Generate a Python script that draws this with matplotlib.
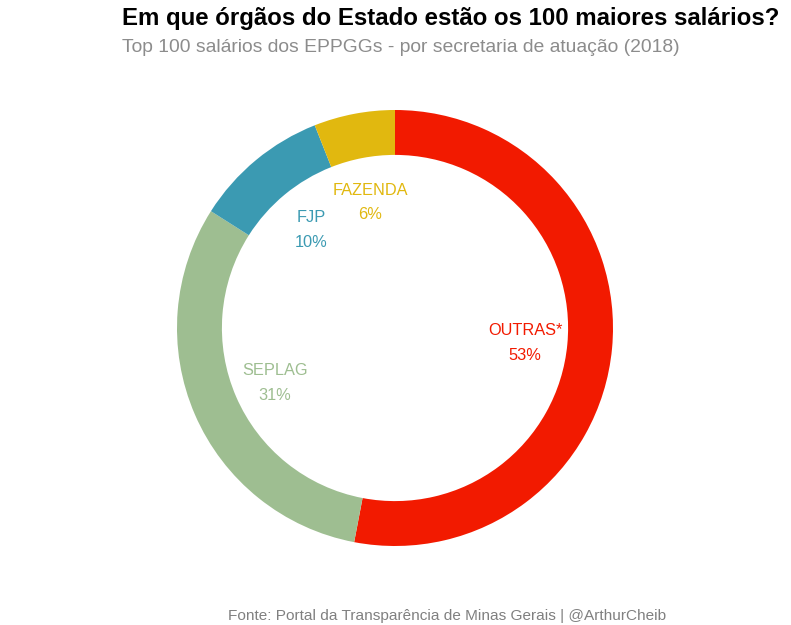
import matplotlib
matplotlib.use("Agg")
import matplotlib.pyplot as plt
import numpy as np

categories = ["OUTRAS*", "SEPLAG", "FJP", "FAZENDA"]
values = [53, 31, 10, 6]
colors = ["#F21A00", "#9EBE91", "#3B9AB2", "#E1B80F"]

plt.rcParams['font.family'] = ['Liberation Sans', 'DejaVu Sans']

W, H = 791, 625
fig = plt.figure(figsize=(W / 100, H / 100), dpi=100)

cx, cy, R = 395, 328, 218
ax = fig.add_axes([(cx - R) / W, (H - cy - R) / H, 2 * R / W, 2 * R / H])
ax.pie(values, colors=colors, startangle=90, counterclock=False, radius=1,
       wedgeprops=dict(width=0.206, linewidth=0))
ax.set_xlim(-1, 1)
ax.set_ylim(-1, 1)
ax.axis('off')

total = sum(values)
start = 90.0
for name, v, c in zip(categories, values, colors):
    sweep = v / total * 360
    mid = np.deg2rad(start - sweep / 2)
    start -= sweep
    x, y = 0.6 * np.cos(mid), 0.6 * np.sin(mid) - 0.014
    ax.text(x, y + 0.057, name, color=c, fontsize=11.8, ha='center', va='center')
    ax.text(x, y - 0.057, f"{v}%", color=c, fontsize=11.8, ha='center', va='center')

fig.text(122 / W, 1 - 19 / H, "Em que órgãos do Estado estão os 100 maiores salários?",
         fontsize=17.3, fontweight='bold', color='black', ha='left', va='center')
fig.text(122 / W, 1 - 47 / H, "Top 100 salários dos EPPGGs - por secretaria de atuação (2018)",
         fontsize=13.9, color='#8C8C8C', ha='left', va='center')
fig.text(447 / W, 1 - 616 / H, "Fonte: Portal da Transparência de Minas Gerais | @ArthurCheib",
         fontsize=11.1, color='#808080', ha='center', va='center')

fig.savefig("out.png", dpi=100)
